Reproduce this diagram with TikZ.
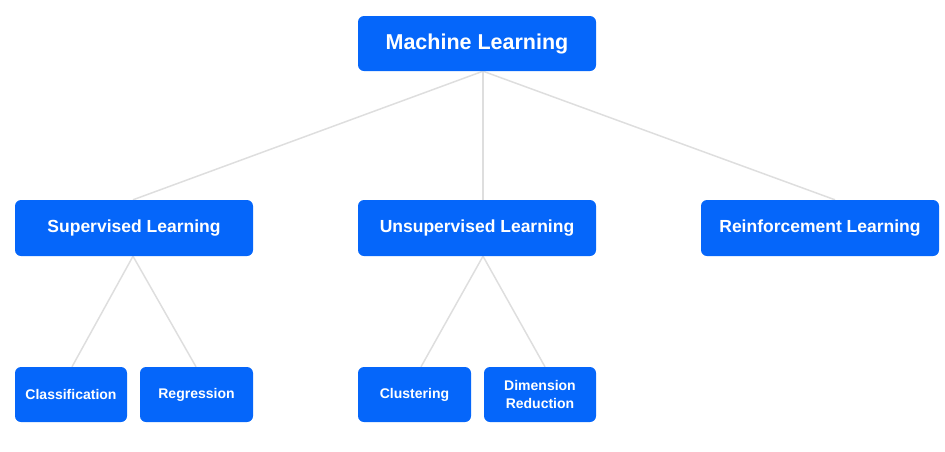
\documentclass[tikz,border=0pt]{standalone}
\usepackage{fontspec}
\setmainfont{Liberation Sans}
\usetikzlibrary{backgrounds,calc}
\definecolor{boxblue}{RGB}{5,102,250}
\definecolor{linkgray}{RGB}{222,222,222}
\tikzset{
  mlbox/.style={draw=none, fill=boxblue, rounded corners=6pt, text=white,
    font=\bfseries, inner sep=0pt, align=center},
  bigbox/.style={mlbox, minimum width=238pt, minimum height=56pt},
  smallbox/.style={mlbox, minimum width=112pt, minimum height=55pt,
    font=\fontsize{14}{18.5}\selectfont\bfseries},
  link/.style={draw=linkgray, line width=1.5pt}
}
\begin{document}
\begin{tikzpicture}[x=1pt,y=-1pt]
\useasboundingbox (0,0) rectangle (945,451);
\node[bigbox, minimum height=55pt, font=\fontsize{21.5}{24}\selectfont\bfseries] (ml) at (477,43.5) {Machine Learning};
\node[bigbox, font=\fontsize{17.5}{20}\selectfont\bfseries] (sup) at (134,228) {Supervised Learning};
\node[bigbox, font=\fontsize{17.5}{20}\selectfont\bfseries] (uns) at (477,228) {Unsupervised Learning};
\node[bigbox, font=\fontsize{17.5}{20}\selectfont\bfseries] (rei) at (820,228) {Reinforcement Learning};
\node[smallbox] (cla) at (71,394.5) {Classification};
\node[smallbox, minimum width=113pt] (reg) at (196.5,394.5) {Regression};
\node[smallbox, minimum width=113pt] (clu) at (414.5,394.5) {Clustering};
\node[smallbox] (dim) at (540,394.5) {Dimension\\Reduction};
\coordinate (mlb) at ($(ml.south)+(6,0)$);
\coordinate (ssb) at ($(sup.south)+(-1,0)$);
\coordinate (usb) at ($(uns.south)+(6,0)$);
\begin{scope}[on background layer]
\draw[link] (mlb) -- ($(sup.north)+(-1,0)$);
\draw[link] (mlb) -- ($(uns.north)+(6,0)$);
\draw[link] (mlb) -- ($(rei.north)+(15,0)$);
\draw[link] (ssb) -- ($(cla.north)+(1,0)$);
\draw[link] (ssb) -- ($(reg.north)+(-0.5,0)$);
\draw[link] (usb) -- ($(clu.north)+(6.5,0)$);
\draw[link] (usb) -- ($(dim.north)+(5,0)$);
\end{scope}
\end{tikzpicture}
\end{document}
